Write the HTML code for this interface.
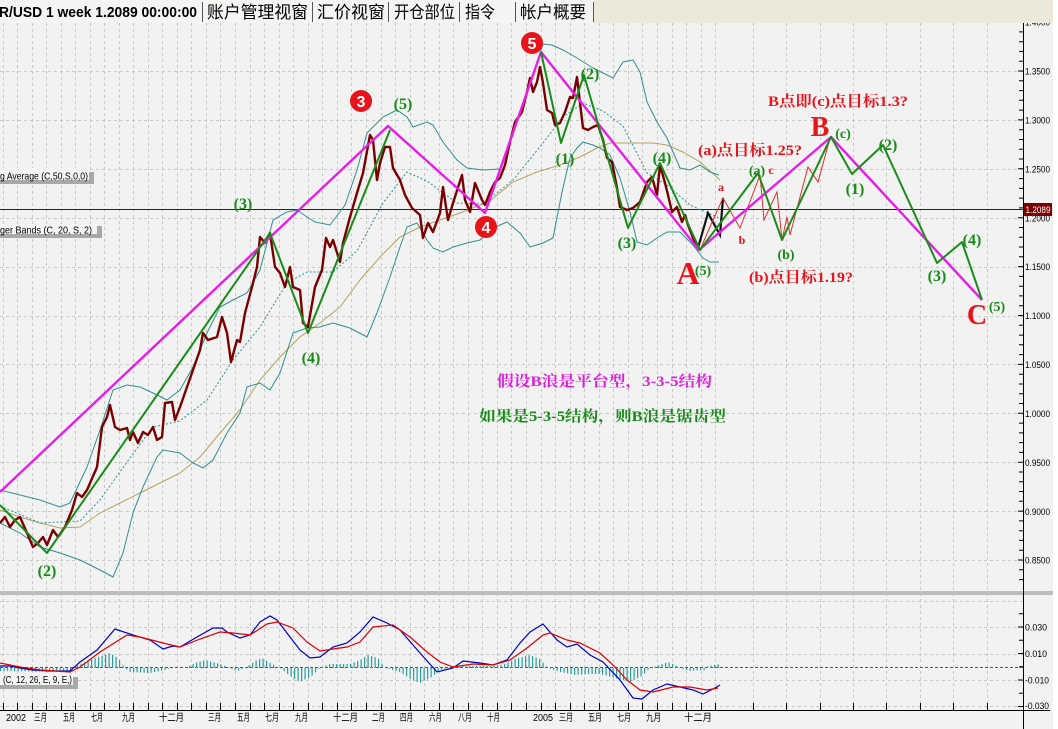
<!DOCTYPE html>
<html><head><meta charset="utf-8"><style>
html,body{margin:0;padding:0;background:#f2f2f2;}
svg{display:block;}
.g{font-family:"Liberation Serif","Noto Serif CJK SC",serif;font-weight:bold;fill:#178a17;}
.r{font-family:"Liberation Serif","Noto Serif CJK SC",serif;font-weight:bold;fill:#e8141a;}
.ax{font-family:"Liberation Sans",sans-serif;font-size:9.5px;fill:#000;}
.mo{font-family:"Liberation Sans","Noto Sans CJK SC",sans-serif;font-size:10px;fill:#000;}
</style></head><body>
<svg width="1058" height="729" xmlns="http://www.w3.org/2000/svg">
<rect width="1058" height="729" fill="#f2f2f2"/>
<rect x="1053" y="0" width="5" height="729" fill="#ffffff"/>

<!-- vertical grid -->
<path fill="none" stroke="#c9c9c9" stroke-width="1" stroke-dasharray="3,3" d="M3.5 23V710M17.5 23V710M32.5 23V710M46.5 23V710M61.5 23V710M75.5 23V710M90.5 23V710M104.5 23V710M119.5 23V710M133.5 23V710M148.5 23V710M162.5 23V710M177.5 23V710M191.5 23V710M206.5 23V710M220.5 23V710M235.5 23V710M250.5 23V710M264.5 23V710M279.5 23V710M293.5 23V710M308.5 23V710M322.5 23V710M337.5 23V710M351.5 23V710M366.5 23V710M381.5 23V710M395.5 23V710M410.5 23V710M424.5 23V710M439.5 23V710M453.5 23V710M468.5 23V710M482.5 23V710M497.5 23V710M511.5 23V710M526.5 23V710M541.5 23V710M555.5 23V710M570.5 23V710M584.5 23V710M599.5 23V710M613.5 23V710M628.5 23V710M642.5 23V710M657.5 23V710M672.5 23V710M686.5 23V710M701.5 23V710M715.5 23V710M753.5 23V710M786.5 23V710M820.5 23V710M853.5 23V710M886.5 23V710M920.5 23V710M953.5 23V710M987.5 23V710"/>
<!-- horizontal grid -->
<path fill="none" stroke="#c9c9c9" stroke-width="1" stroke-dasharray="3,3" d="M0 71.5H1023M0 120.5H1023M0 169.5H1023M0 218.5H1023M0 267.5H1023M0 316.5H1023M0 364.5H1023M0 413.5H1023M0 462.5H1023M0 511.5H1023M0 560.5H1023M0 601.5H1023M0 627.5H1023M0 654.5H1023M0 680.5H1023M0 706.5H1023"/>

<!-- current price line -->
<line x1="0" y1="209.5" x2="1023" y2="209.5" stroke="#800000" stroke-width="1"/>

<!-- MA 50 -->
<polyline fill="none" stroke="#b3a45a" stroke-width="1" points="0,510 20,517 40,523 60,528 80,527 100,513 120,503 140,493 160,483 180,473 200,457 220,433 240,410 260,380 280,357 300,337 320,323 340,307 360,280 380,257 400,237 420,227 440,220 460,213 480,205 490,201 513,182 537,172 560,165 580,157 597,148 610,143 630,143 653,143 667,145 683,152 700,162 720,180"/>

<!-- Bollinger bands -->
<polyline fill="none" stroke="#2f9090" stroke-width="1" points="0,490 20,495 40,500 60,507 70,503 87,467 100,430 113,390 127,385 140,387 153,393 167,400 180,390 193,367 207,333 220,307 233,300 247,293 260,270 273,220 287,212 297,210 307,217 315,222 330,225 345,205 357,170 367,133 383,117 397,110 407,117 413,127 427,122 433,125 443,142 457,160 467,168 483,170 500,169 513,135 527,92 543,44 552,45 563,50 577,58 593,68 603,73 613,78 623,62 633,60 640,72 647,102 657,122 667,138 680,168 690,170 700,165 710,172 719,175"/>
<polyline fill="none" stroke="#2f9090" stroke-width="1" points="0,523 20,533 40,547 60,553 80,560 100,570 113,577 123,553 133,513 143,487 157,457 163,450 180,453 193,463 203,468 213,460 227,433 240,413 247,387 260,383 270,390 280,373 293,333 307,328 320,327 333,323 350,328 367,337 377,313 390,277 400,247 407,227 417,223 427,240 433,248 443,252 453,247 467,243 480,240 493,228 507,222 520,233 530,247 543,243 553,238 562,192 570,158 577,148 583,142 593,145 600,148 610,155 620,178 630,212 637,242 647,245 657,238 667,232 680,232 693,245 703,258 710,262 719,262"/>
<polyline fill="none" stroke="#2f9090" stroke-width="1" stroke-dasharray="2,2" points="0,506 40,523 80,521 100,500 127,462 153,427 180,421 207,400 233,360 260,327 287,283 307,272 333,272 357,251 383,203 407,172 427,181 457,203 483,204 513,180 543,143 563,117 583,103 603,111 623,126 647,173 667,185 690,205 719,218"/>

<!-- price -->
<polyline fill="none" stroke="#7a0000" stroke-width="2.4" stroke-linejoin="round" points="0,523 5,517 10,527 15,520 20,517 27,533 33,547 38,543 43,537 47,545 53,530 58,537 65,527 72,510 77,493 82,497 87,490 97,467 102,427 107,417 110,405 115,427 120,430 127,428 130,440 133,432 138,443 143,432 148,435 153,427 157,440 162,437 165,403 172,402 175,420 180,407 187,387 193,370 200,350 203,333 208,340 217,337 222,317 227,333 231,362 237,340 240,342 245,313 252,287 257,267 260,237 265,243 270,233 275,267 280,273 285,287 290,267 293,287 300,290 303,323 308,327 315,287 322,270 326,238 330,247 333,240 340,262 343,243 350,217 357,193 363,173 370,135 373,140 377,180 380,163 385,147 390,147 393,168 400,180 405,195 412,208 420,215 423,238 428,223 433,232 440,213 443,187 448,220 453,203 462,175 465,200 470,212 475,183 482,200 485,205 490,192 495,182 500,178 505,165 510,142 515,122 522,112 527,92 530,78 533,92 537,82 540,67 543,83 547,110 552,113 555,125 560,123 565,112 570,97 573,98 577,77 580,103 583,128 588,130 593,127 598,125 603,140 607,158 612,162 617,188 620,207 627,210 633,208 640,202 647,182 652,177 657,195 660,165 665,183 668,195 672,212 677,207 682,222 685,215 688,225 693,238 698,248"/>
<polyline fill="none" stroke="#111" stroke-width="2.2" points="698,248 708,213 720,235 723,198"/>

<!-- thin red zigzag -->
<polyline fill="none" stroke="#e03030" stroke-width="1" points="700,250 713,220 723,198 740,228 760,175 764,220 777,192 782,240 787,217 790,235 808,167 818,182 830,138"/>

<!-- magenta wave -->
<polyline fill="none" stroke="#e61ee6" stroke-width="2.4" stroke-linejoin="round" points="0,492 388,126 485,213 541,52 699,250 831,137 982,300"/>

<!-- green waves -->
<polyline fill="none" stroke="#198c19" stroke-width="2" stroke-linejoin="round" points="0,505 47,553 270,233 308,333 390,130"/>
<polyline fill="none" stroke="#198c19" stroke-width="2" stroke-linejoin="round" points="541,52 561,143 584,75 628,228 660,163 700,250 758,173 782,240 831,137 852,174 883,145 937,263 962,242 982,300"/>

<!-- circles -->
<circle cx="361" cy="101" r="11" fill="#e8141a"/>
<text x="361" y="107" text-anchor="middle" font-family="Liberation Sans,sans-serif" font-weight="bold" font-size="16" fill="#fff">3</text>
<circle cx="486" cy="227" r="11" fill="#e8141a"/>
<text x="486" y="233" text-anchor="middle" font-family="Liberation Sans,sans-serif" font-weight="bold" font-size="16" fill="#fff">4</text>
<circle cx="532" cy="43" r="11" fill="#e8141a"/>
<text x="532" y="49" text-anchor="middle" font-family="Liberation Sans,sans-serif" font-weight="bold" font-size="16" fill="#fff">5</text>

<!-- green labels -->
<g class="g" font-size="16" text-anchor="middle">
<text x="403" y="109">(5)</text>
<text x="243" y="209">(3)</text>
<text x="311" y="363">(4)</text>
<text x="47" y="576">(2)</text>
<text x="565" y="164">(1)</text>
<text x="590" y="79">(2)</text>
<text x="627" y="248">(3)</text>
<text x="662" y="163">(4)</text>
<text x="855" y="194">(1)</text>
<text x="888" y="150">(2)</text>
<text x="937" y="281">(3)</text>
<text x="972" y="245">(4)</text>
</g>
<g class="g" font-size="14" text-anchor="middle">
<text x="757" y="175">(a)</text>
<text x="786" y="259">(b)</text>
<text x="843" y="138">(c)</text>
<text x="703" y="275">(5)</text>
<text x="997" y="311">(5)</text>
</g>

<!-- red labels -->
<text class="r" x="688" y="284" font-size="32" text-anchor="middle">A</text>
<text class="r" x="820" y="136" font-size="28" text-anchor="middle">B</text>
<text class="r" x="977" y="324" font-size="28" text-anchor="middle">C</text>
<text class="r" x="721" y="191" font-size="12" text-anchor="middle">a</text>
<text class="r" x="742" y="244" font-size="12" text-anchor="middle">b</text>
<text class="r" x="771" y="174" font-size="12" text-anchor="middle">c</text>
<text class="r" x="698" y="155" font-size="15" textLength="104" lengthAdjust="spacingAndGlyphs">(a)点目标1.25?</text>
<text class="r" x="768" y="106" font-size="15" textLength="140" lengthAdjust="spacingAndGlyphs">B点即(c)点目标1.3?</text>
<text class="r" x="749" y="282" font-size="15" textLength="104" lengthAdjust="spacingAndGlyphs">(b)点目标1.19?</text>

<!-- chinese notes -->
<text x="497" y="386" font-family="Liberation Serif,Noto Serif CJK SC,serif" font-weight="bold" font-size="15" fill="#e01ee0" textLength="215" lengthAdjust="spacingAndGlyphs">假设B浪是平台型，3-3-5结构</text>
<text x="479" y="421" font-family="Liberation Serif,Noto Serif CJK SC,serif" font-weight="bold" font-size="15" fill="#178a17" textLength="247" lengthAdjust="spacingAndGlyphs">如果是5-3-5结构，则B浪是锯齿型</text>

<!-- legends -->
<rect x="0" y="168" width="90" height="12" fill="#f4f4f4"/>
<rect x="0" y="180" width="94" height="4" fill="#a8a8a8"/>
<rect x="89" y="172" width="5" height="12" fill="#a8a8a8"/>
<text x="0" y="179.5" font-family="Liberation Sans,sans-serif" font-size="10.5" fill="#000" textLength="88" lengthAdjust="spacingAndGlyphs">g Average (C,50,S,0,0)</text>
<rect x="0" y="224" width="97" height="11" fill="#f4f4f4"/>
<rect x="0" y="234" width="102" height="4" fill="#a8a8a8"/>
<rect x="97" y="226" width="5" height="12" fill="#a8a8a8"/>
<text x="0" y="233.5" font-family="Liberation Sans,sans-serif" font-size="10.5" fill="#000" textLength="92" lengthAdjust="spacingAndGlyphs">ger Bands (C, 20, S, 2)</text>

<!-- MACD panel -->
<line x1="0" y1="667.5" x2="1023" y2="667.5" stroke="#d42020" stroke-width="1" stroke-dasharray="3,2"/>
<defs><pattern id="hb" x="0" y="0" width="3.5" height="20" patternUnits="userSpaceOnUse"><rect x="0" y="0" width="1.2" height="20" fill="#2a9d9d"/></pattern></defs>
<polygon fill="url(#hb)" points="0,668 0,671 70,672 72,668 90,660 110,653 118,658 125,668 130,672 150,673 165,670 170,668 185,668 195,663 205,660 220,664 230,668 237,671 245,668 255,661 262,658 272,664 280,668 290,676 300,682 312,676 320,668 330,664 350,664 360,660 368,655 378,658 385,668 400,672 412,680 420,683 432,677 440,670 450,668 460,666 495,666 505,664 515,659 530,655 540,659 548,668 560,672 575,675 590,674 600,674 615,678 630,682 642,676 650,668 660,665 668,662 675,665 680,668 690,671 705,670 708,666 720,664 720,668"/>
<polyline fill="none" stroke="#0000c8" stroke-width="1.2" points="0,666 10,666 20,668 33,670 50,671 70,671 80,662 97,650 115,629 133,635 150,640 163,649 173,646 180,647 197,637 213,628 222,628 227,632 240,638 250,635 260,622 270,616 277,620 290,637 300,650 310,658 320,657 333,647 347,643 360,632 373,617 387,623 400,630 420,653 437,672 453,668 463,661 480,663 493,665 507,660 520,643 530,632 543,624 557,640 567,647 577,644 590,655 603,662 620,680 633,698 642,699 653,690 667,684 680,687 693,690 703,694 713,689 720,685"/>
<polyline fill="none" stroke="#e00000" stroke-width="1.2" points="0,663 20,667 40,670 70,672 80,667 100,652 127,635 140,637 167,644 180,647 200,639 220,632 233,633 250,635 267,624 277,622 293,628 307,642 320,651 333,649 347,647 360,642 373,627 393,625 410,637 427,652 440,662 453,667 473,664 493,665 510,660 527,648 543,635 550,633 567,640 580,643 600,653 613,665 627,680 640,690 653,692 673,687 690,687 707,690 718,688"/>
<rect x="0" y="673" width="73" height="12" fill="#f4f4f4"/>
<rect x="0" y="685" width="78" height="4" fill="#a8a8a8"/>
<rect x="73" y="677" width="5" height="12" fill="#a8a8a8"/>
<text x="3" y="683" font-family="Liberation Sans,sans-serif" font-size="10.5" fill="#000" textLength="69" lengthAdjust="spacingAndGlyphs">(C, 12, 26, E, 9, E,)</text>

<!-- separator -->
<rect x="0" y="591" width="1053" height="4" fill="#bdbdbd"/>

<!-- axes -->
<line x1="1023.5" y1="23" x2="1023.5" y2="729" stroke="#000" stroke-width="1"/>
<line x1="0" y1="710.5" x2="1050" y2="710.5" stroke="#000" stroke-width="1"/>
<path stroke="#000" stroke-width="1" fill="none" d="M1019 31.9H1023M1019 41.7H1023M1019 51.4H1023M1019 61.2H1023M1018 71H1023M1019 80.8H1023M1019 90.6H1023M1019 100.3H1023M1019 110.1H1023M1018 119.9H1023M1019 129.7H1023M1019 139.5H1023M1019 149.2H1023M1019 159H1023M1018 168.8H1023M1019 178.6H1023M1019 188.4H1023M1019 198.1H1023M1019 207.9H1023M1018 217.7H1023M1019 227.5H1023M1019 237.3H1023M1019 247H1023M1019 256.8H1023M1018 266.6H1023M1019 276.4H1023M1019 286.2H1023M1019 295.9H1023M1019 305.7H1023M1018 315.5H1023M1019 325.3H1023M1019 335.1H1023M1019 344.8H1023M1019 354.6H1023M1018 364.4H1023M1019 374.2H1023M1019 384H1023M1019 393.7H1023M1019 403.5H1023M1018 413.3H1023M1019 423.1H1023M1019 432.9H1023M1019 442.6H1023M1019 452.4H1023M1018 462.2H1023M1019 472H1023M1019 481.8H1023M1019 491.5H1023M1019 501.3H1023M1018 511.1H1023M1019 520.9H1023M1019 530.7H1023M1019 540.4H1023M1019 550.2H1023M1018 560H1023M1019 569.8H1023M1019 579.6H1023M1019 613.8H1023M1018 627H1023M1019 640.3H1023M1018 653.5H1023M1019 666.8H1023M1018 680H1023M1019 693.3H1023M1018 706.5H1023"/>
<path stroke="#000" stroke-width="1" fill="none" d="M3.5 703V710M17.5 703V710M32.5 703V710M46.5 703V710M61.5 703V710M75.5 703V710M90.5 703V710M104.5 703V710M119.5 703V710M133.5 703V710M148.5 703V710M162.5 703V710M177.5 703V710M191.5 703V710M206.5 703V710M220.5 703V710M235.5 703V710M250.5 703V710M264.5 703V710M279.5 703V710M293.5 703V710M308.5 703V710M322.5 703V710M337.5 703V710M351.5 703V710M366.5 703V710M381.5 703V710M395.5 703V710M410.5 703V710M424.5 703V710M439.5 703V710M453.5 703V710M468.5 703V710M482.5 703V710M497.5 703V710M511.5 703V710M526.5 703V710M541.5 703V710M555.5 703V710M570.5 703V710M584.5 703V710M599.5 703V710M613.5 703V710M628.5 703V710M642.5 703V710M657.5 703V710M672.5 703V710M686.5 703V710M701.5 703V710M715.5 703V710M753.5 703V710M786.5 703V710M820.5 703V710M853.5 703V710M886.5 703V710M920.5 703V710M953.5 703V710M987.5 703V710"/>

<!-- right axis labels -->
<g class="ax">
<text x="1025" y="25.5" textLength="25" lengthAdjust="spacingAndGlyphs">1.4000</text>
<text x="1025" y="74.5" textLength="25" lengthAdjust="spacingAndGlyphs">1.3500</text>
<text x="1025" y="123.5" textLength="25" lengthAdjust="spacingAndGlyphs">1.3000</text>
<text x="1025" y="172.5" textLength="25" lengthAdjust="spacingAndGlyphs">1.2500</text>
<text x="1025" y="221.5" textLength="25" lengthAdjust="spacingAndGlyphs">1.2000</text>
<text x="1025" y="270" textLength="25" lengthAdjust="spacingAndGlyphs">1.1500</text>
<text x="1025" y="319" textLength="25" lengthAdjust="spacingAndGlyphs">1.1000</text>
<text x="1025" y="368" textLength="25" lengthAdjust="spacingAndGlyphs">1.0500</text>
<text x="1025" y="417" textLength="25" lengthAdjust="spacingAndGlyphs">1.0000</text>
<text x="1025" y="466" textLength="25" lengthAdjust="spacingAndGlyphs">0.9500</text>
<text x="1025" y="515" textLength="25" lengthAdjust="spacingAndGlyphs">0.9000</text>
<text x="1025" y="563.5" textLength="25" lengthAdjust="spacingAndGlyphs">0.8500</text>
<text x="1025" y="630.5" textLength="22" lengthAdjust="spacingAndGlyphs">0.030</text>
<text x="1025" y="657" textLength="22" lengthAdjust="spacingAndGlyphs">0.010</text>
<text x="1025" y="683.5" textLength="24" lengthAdjust="spacingAndGlyphs">-0.010</text>
<text x="1025" y="709" textLength="24" lengthAdjust="spacingAndGlyphs">-0.030</text>
</g>
<rect x="1024" y="203" width="28" height="13" fill="#7b0000"/>
<text x="1025.5" y="213" font-family="Liberation Sans,sans-serif" font-size="9.5" fill="#fff" textLength="25" lengthAdjust="spacingAndGlyphs">1.2089</text>

<!-- bottom labels -->
<g class="mo">
<text x="6" y="721" textLength="20" lengthAdjust="spacingAndGlyphs">2002</text>
<text x="34" y="721" textLength="13" lengthAdjust="spacingAndGlyphs">三月</text>
<text x="63" y="721" textLength="12" lengthAdjust="spacingAndGlyphs">五月</text>
<text x="91" y="721" textLength="12" lengthAdjust="spacingAndGlyphs">七月</text>
<text x="122" y="721" textLength="13" lengthAdjust="spacingAndGlyphs">九月</text>
<text x="159" y="721" textLength="25" lengthAdjust="spacingAndGlyphs">十二月</text>
<text x="208" y="721" textLength="13" lengthAdjust="spacingAndGlyphs">三月</text>
<text x="237" y="721" textLength="13" lengthAdjust="spacingAndGlyphs">五月</text>
<text x="265" y="721" textLength="14" lengthAdjust="spacingAndGlyphs">七月</text>
<text x="295" y="721" textLength="13" lengthAdjust="spacingAndGlyphs">九月</text>
<text x="333" y="721" textLength="25" lengthAdjust="spacingAndGlyphs">十二月</text>
<text x="372" y="721" textLength="13" lengthAdjust="spacingAndGlyphs">二月</text>
<text x="400" y="721" textLength="13" lengthAdjust="spacingAndGlyphs">四月</text>
<text x="429" y="721" textLength="13" lengthAdjust="spacingAndGlyphs">六月</text>
<text x="458" y="721" textLength="14" lengthAdjust="spacingAndGlyphs">八月</text>
<text x="487" y="721" textLength="13" lengthAdjust="spacingAndGlyphs">十月</text>
<text x="533" y="721" textLength="20" lengthAdjust="spacingAndGlyphs">2005</text>
<text x="559" y="721" textLength="14" lengthAdjust="spacingAndGlyphs">三月</text>
<text x="588" y="721" textLength="14" lengthAdjust="spacingAndGlyphs">五月</text>
<text x="617" y="721" textLength="14" lengthAdjust="spacingAndGlyphs">七月</text>
<text x="646" y="721" textLength="15" lengthAdjust="spacingAndGlyphs">九月</text>
<text x="684" y="721" textLength="28" lengthAdjust="spacingAndGlyphs">十二月</text>
</g>

<!-- top bar -->
<rect x="0" y="0" width="1053" height="23" fill="#ece9d8"/>
<rect x="0" y="0" width="594" height="23" fill="#f4f4f2"/>
<text x="-1" y="17" font-family="Liberation Sans,sans-serif" font-weight="bold" font-size="15" fill="#000" textLength="198" lengthAdjust="spacingAndGlyphs">R/USD 1 week 1.2089 00:00:00</text>
<g font-family="Liberation Sans,Noto Sans CJK SC,sans-serif" font-size="17" fill="#000">
<text x="207" y="18" textLength="101" lengthAdjust="spacingAndGlyphs">账户管理视窗</text>
<text x="317" y="18" textLength="68" lengthAdjust="spacingAndGlyphs">汇价视窗</text>
<text x="394" y="18" textLength="61" lengthAdjust="spacingAndGlyphs">开仓部位</text>
<text x="465" y="18" textLength="30" lengthAdjust="spacingAndGlyphs">指令</text>
<text x="520" y="18" textLength="66" lengthAdjust="spacingAndGlyphs">帐户概要</text>
</g>
<path stroke="#555" stroke-width="1" fill="none" d="M202.5 2V22M312.5 2V22M388.5 2V22M459.5 2V22M515.5 2V22M593.5 2V22"/>
</svg>
</body></html>
